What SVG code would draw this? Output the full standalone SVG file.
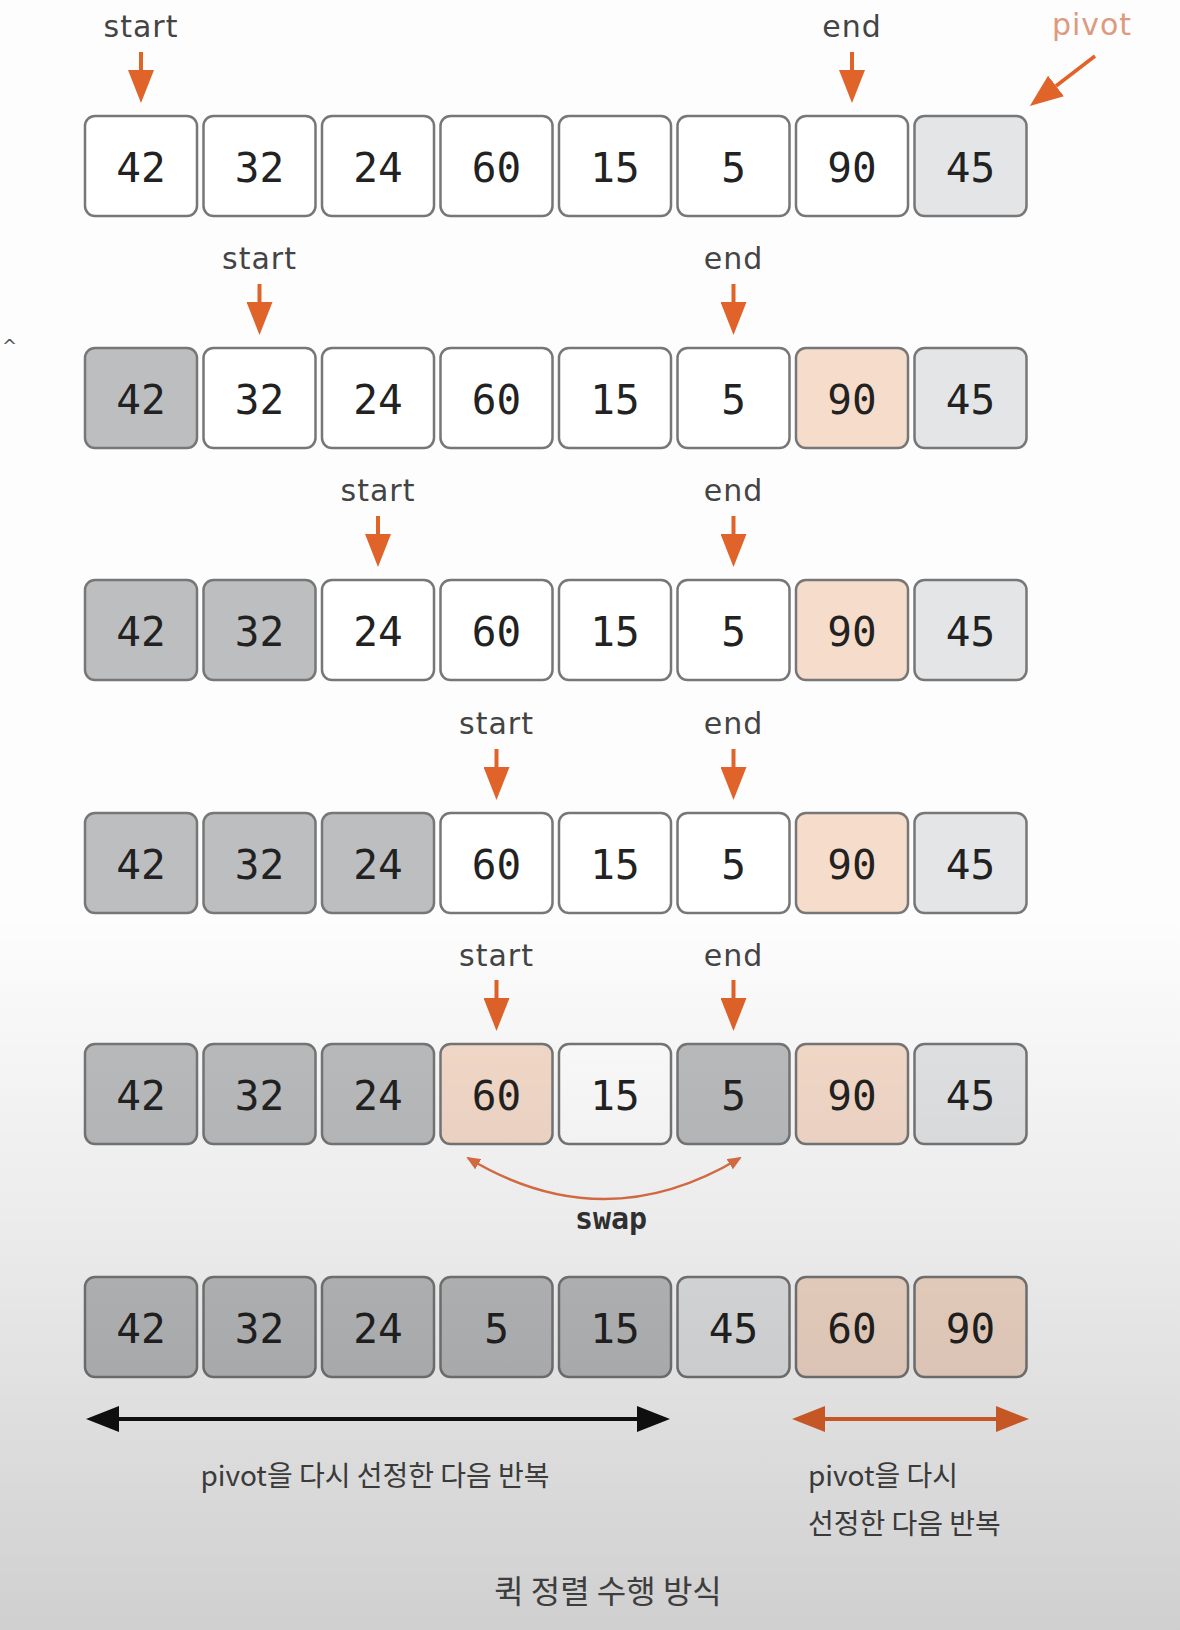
<svg xmlns="http://www.w3.org/2000/svg" width="1180" height="1630" viewBox="0 0 1180 1630">
<style>
.box{stroke:#777;stroke-width:2.5}
.w{fill:#ffffff}
.g{fill:#bdbec0}
.l{fill:#e4e5e6}
.p{fill:#f6dccb}
.num{font-family:"DejaVu Sans Mono","Liberation Mono",monospace;font-size:41px;fill:#222;text-anchor:middle}
.lbl{font-family:"DejaVu Sans","Liberation Sans",sans-serif;font-size:30px;fill:#444;text-anchor:middle;letter-spacing:1px}
.piv{fill:#dd9a80}
.down{stroke:#e0632a;stroke-width:4;fill:none;marker-end:url(#ah)}
.kr{font-family:"Noto Sans CJK KR","Noto Sans",sans-serif;font-size:28px;fill:#444;font-weight:400}
.title{font-size:32px;fill:#4a4a4a}
</style>
<defs>
<marker id="ah" viewBox="0 0 33 26" refX="0" refY="13" markerWidth="33" markerHeight="26" markerUnits="userSpaceOnUse" orient="auto">
<path d="M0,0 L33,13 L0,26 z" fill="#e0632a"/>
</marker>
<marker id="ahb" viewBox="0 0 33 26" refX="0" refY="13" markerWidth="33" markerHeight="26" markerUnits="userSpaceOnUse" orient="auto-start-reverse">
<path d="M0,0 L33,13 L0,26 z" fill="#111"/>
</marker>
<marker id="aho" viewBox="0 0 33 26" refX="0" refY="13" markerWidth="33" markerHeight="26" markerUnits="userSpaceOnUse" orient="auto-start-reverse">
<path d="M0,0 L33,13 L0,26 z" fill="#e0632a"/>
</marker>
<marker id="ahs" viewBox="0 0 14 12" refX="12" refY="6" markerWidth="14" markerHeight="12" markerUnits="userSpaceOnUse" orient="auto-start-reverse">
<path d="M0,0 L14,6 L0,12 z" fill="#de6f45"/>
</marker>
<linearGradient id="shade" gradientUnits="userSpaceOnUse" x1="0" y1="0" x2="0" y2="1630">
<stop offset="0" stop-color="#000" stop-opacity="0"/>
<stop offset="0.56" stop-color="#000" stop-opacity="0"/>
<stop offset="0.75" stop-color="#000" stop-opacity="0.07"/>
<stop offset="1" stop-color="#000" stop-opacity="0.18"/>
</linearGradient>
</defs>
<rect x="0" y="0" width="1180" height="1630" fill="#fdfdfd"/>
<text x="2" y="352" font-family="DejaVu Sans, sans-serif" font-size="18" fill="#555">^</text>

<g id="row1">
<rect class="box w" x="85" y="116" width="112" height="100" rx="10"/><text class="num" x="141" y="182">42</text>
<rect class="box w" x="203.5" y="116" width="112" height="100" rx="10"/><text class="num" x="259.5" y="182">32</text>
<rect class="box w" x="322" y="116" width="112" height="100" rx="10"/><text class="num" x="378" y="182">24</text>
<rect class="box w" x="440.5" y="116" width="112" height="100" rx="10"/><text class="num" x="496.5" y="182">60</text>
<rect class="box w" x="559" y="116" width="112" height="100" rx="10"/><text class="num" x="615" y="182">15</text>
<rect class="box w" x="677.5" y="116" width="112" height="100" rx="10"/><text class="num" x="733.5" y="182">5</text>
<rect class="box w" x="796" y="116" width="112" height="100" rx="10"/><text class="num" x="852" y="182">90</text>
<rect class="box l" x="914.5" y="116" width="112" height="100" rx="10"/><text class="num" x="970.5" y="182">45</text>
<text class="lbl" x="141" y="37">start</text>
<text class="lbl" x="852" y="37">end</text>
<text class="lbl piv" x="1092" y="35">pivot</text>
</g>

<g id="row2">
<rect class="box g" x="85" y="348" width="112" height="100" rx="10"/><text class="num" x="141" y="414">42</text>
<rect class="box w" x="203.5" y="348" width="112" height="100" rx="10"/><text class="num" x="259.5" y="414">32</text>
<rect class="box w" x="322" y="348" width="112" height="100" rx="10"/><text class="num" x="378" y="414">24</text>
<rect class="box w" x="440.5" y="348" width="112" height="100" rx="10"/><text class="num" x="496.5" y="414">60</text>
<rect class="box w" x="559" y="348" width="112" height="100" rx="10"/><text class="num" x="615" y="414">15</text>
<rect class="box w" x="677.5" y="348" width="112" height="100" rx="10"/><text class="num" x="733.5" y="414">5</text>
<rect class="box p" x="796" y="348" width="112" height="100" rx="10"/><text class="num" x="852" y="414">90</text>
<rect class="box l" x="914.5" y="348" width="112" height="100" rx="10"/><text class="num" x="970.5" y="414">45</text>
<text class="lbl" x="259.5" y="269">start</text>
<text class="lbl" x="733.5" y="269">end</text>
</g>

<g id="row3">
<rect class="box g" x="85" y="580" width="112" height="100" rx="10"/><text class="num" x="141" y="646">42</text>
<rect class="box g" x="203.5" y="580" width="112" height="100" rx="10"/><text class="num" x="259.5" y="646">32</text>
<rect class="box w" x="322" y="580" width="112" height="100" rx="10"/><text class="num" x="378" y="646">24</text>
<rect class="box w" x="440.5" y="580" width="112" height="100" rx="10"/><text class="num" x="496.5" y="646">60</text>
<rect class="box w" x="559" y="580" width="112" height="100" rx="10"/><text class="num" x="615" y="646">15</text>
<rect class="box w" x="677.5" y="580" width="112" height="100" rx="10"/><text class="num" x="733.5" y="646">5</text>
<rect class="box p" x="796" y="580" width="112" height="100" rx="10"/><text class="num" x="852" y="646">90</text>
<rect class="box l" x="914.5" y="580" width="112" height="100" rx="10"/><text class="num" x="970.5" y="646">45</text>
<text class="lbl" x="378" y="501">start</text>
<text class="lbl" x="733.5" y="501">end</text>
</g>

<g id="row4">
<rect class="box g" x="85" y="813" width="112" height="100" rx="10"/><text class="num" x="141" y="879">42</text>
<rect class="box g" x="203.5" y="813" width="112" height="100" rx="10"/><text class="num" x="259.5" y="879">32</text>
<rect class="box g" x="322" y="813" width="112" height="100" rx="10"/><text class="num" x="378" y="879">24</text>
<rect class="box w" x="440.5" y="813" width="112" height="100" rx="10"/><text class="num" x="496.5" y="879">60</text>
<rect class="box w" x="559" y="813" width="112" height="100" rx="10"/><text class="num" x="615" y="879">15</text>
<rect class="box w" x="677.5" y="813" width="112" height="100" rx="10"/><text class="num" x="733.5" y="879">5</text>
<rect class="box p" x="796" y="813" width="112" height="100" rx="10"/><text class="num" x="852" y="879">90</text>
<rect class="box l" x="914.5" y="813" width="112" height="100" rx="10"/><text class="num" x="970.5" y="879">45</text>
<text class="lbl" x="496.5" y="734">start</text>
<text class="lbl" x="733.5" y="734">end</text>
</g>

<g id="row5">
<rect class="box g" x="85" y="1044" width="112" height="100" rx="10"/><text class="num" x="141" y="1110">42</text>
<rect class="box g" x="203.5" y="1044" width="112" height="100" rx="10"/><text class="num" x="259.5" y="1110">32</text>
<rect class="box g" x="322" y="1044" width="112" height="100" rx="10"/><text class="num" x="378" y="1110">24</text>
<rect class="box p" x="440.5" y="1044" width="112" height="100" rx="10"/><text class="num" x="496.5" y="1110">60</text>
<rect class="box w" x="559" y="1044" width="112" height="100" rx="10"/><text class="num" x="615" y="1110">15</text>
<rect class="box g" x="677.5" y="1044" width="112" height="100" rx="10"/><text class="num" x="733.5" y="1110">5</text>
<rect class="box p" x="796" y="1044" width="112" height="100" rx="10"/><text class="num" x="852" y="1110">90</text>
<rect class="box l" x="914.5" y="1044" width="112" height="100" rx="10"/><text class="num" x="970.5" y="1110">45</text>
<text class="lbl" x="496.5" y="966">start</text>
<text class="lbl" x="733.5" y="966">end</text>
<text x="611" y="1229" font-family="DejaVu Sans Mono, Liberation Mono, monospace" font-size="30" font-weight="bold" fill="#333" text-anchor="middle">swap</text>
</g>

<g id="row6">
<rect class="box g" x="85" y="1277" width="112" height="100" rx="10"/><text class="num" x="141" y="1343">42</text>
<rect class="box g" x="203.5" y="1277" width="112" height="100" rx="10"/><text class="num" x="259.5" y="1343">32</text>
<rect class="box g" x="322" y="1277" width="112" height="100" rx="10"/><text class="num" x="378" y="1343">24</text>
<rect class="box g" x="440.5" y="1277" width="112" height="100" rx="10"/><text class="num" x="496.5" y="1343">5</text>
<rect class="box g" x="559" y="1277" width="112" height="100" rx="10"/><text class="num" x="615" y="1343">15</text>
<rect class="box l" x="677.5" y="1277" width="112" height="100" rx="10"/><text class="num" x="733.5" y="1343">45</text>
<rect class="box p" x="796" y="1277" width="112" height="100" rx="10"/><text class="num" x="852" y="1343">60</text>
<rect class="box p" x="914.5" y="1277" width="112" height="100" rx="10"/><text class="num" x="970.5" y="1343">90</text>
</g>

<g id="connectors">
<line class="down" x1="141" y1="52" x2="141" y2="70"/>
<line class="down" x1="852" y1="52" x2="852" y2="70"/>
<line x1="1095" y1="56" x2="1056" y2="86" stroke="#e0632a" stroke-width="3.5" marker-end="url(#ah)"/>
<line class="down" x1="259.5" y1="284" x2="259.5" y2="302"/>
<line class="down" x1="733.5" y1="284" x2="733.5" y2="302"/>
<line class="down" x1="378" y1="516" x2="378" y2="534"/>
<line class="down" x1="733.5" y1="516" x2="733.5" y2="534"/>
<line class="down" x1="496.5" y1="749" x2="496.5" y2="767"/>
<line class="down" x1="733.5" y1="749" x2="733.5" y2="767"/>
<line class="down" x1="496.5" y1="980" x2="496.5" y2="998"/>
<line class="down" x1="733.5" y1="980" x2="733.5" y2="998"/>
<path d="M468,1158 Q604,1240 740,1158" fill="none" stroke="#de6f45" stroke-width="2.5" marker-start="url(#ahs)" marker-end="url(#ahs)"/>
<line x1="119" y1="1419" x2="637" y2="1419" stroke="#111" stroke-width="4" marker-start="url(#ahb)" marker-end="url(#ahb)"/>
<line x1="825" y1="1419" x2="996" y2="1419" stroke="#e0632a" stroke-width="4" marker-start="url(#aho)" marker-end="url(#aho)"/>
</g>

<g id="captions">
<text class="kr" x="375" y="1486" text-anchor="middle">pivot을 다시 선정한 다음 반복</text>
<text class="kr" x="808" y="1486">pivot을 다시</text>
<text class="kr" x="808" y="1534">선정한 다음 반복</text>
<text class="kr title" x="608" y="1603" text-anchor="middle">퀵 정렬 수행 방식</text>
</g>

<rect x="0" y="0" width="1180" height="1630" fill="url(#shade)" pointer-events="none"/>
</svg>
